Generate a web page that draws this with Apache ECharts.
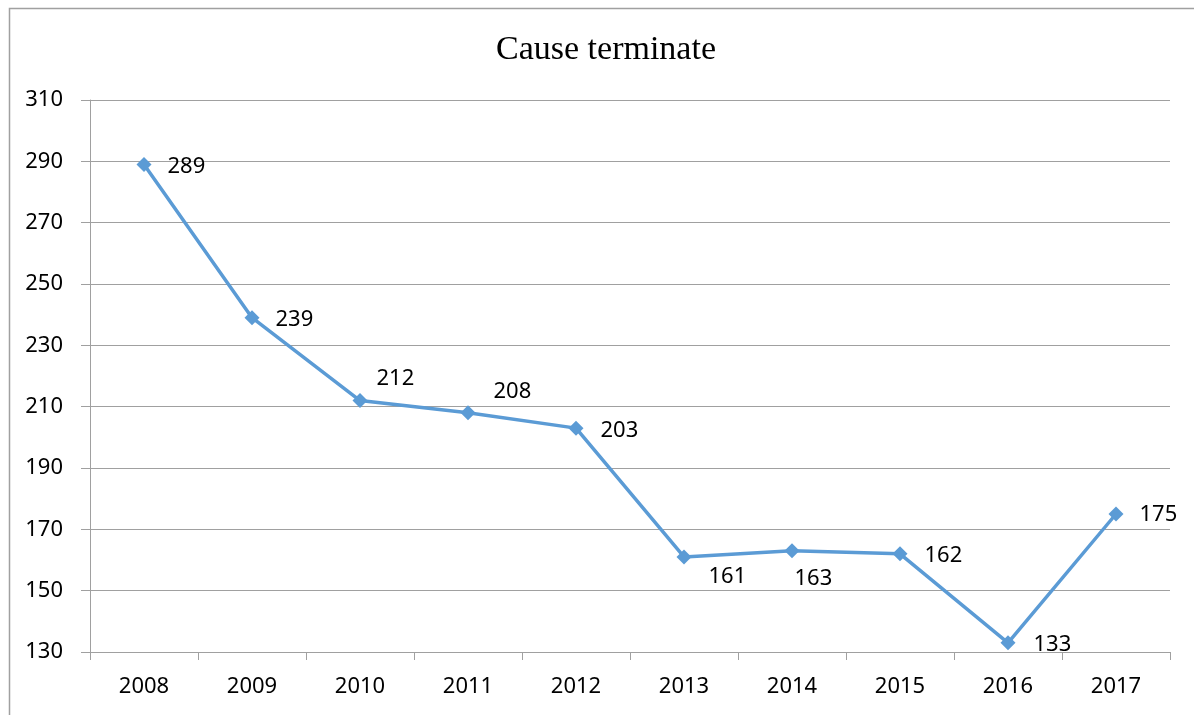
<!DOCTYPE html>
<html>
<head>
<meta charset="utf-8">
<script src="https://cdn.jsdelivr.net/npm/echarts@6/dist/echarts.min.js"></script>
<style>
html,body{margin:0;padding:0;background:#fff;}
#chart{width:1194px;height:715px;}
</style>
</head>
<body>
<div id="chart"></div>
<script>
var titleText = 'Cause terminate';
var years = ['2008','2009','2010','2011','2012','2013','2014','2015','2016','2017'];
var values = [289, 239, 212, 208, 203, 161, 163, 162, 133, 175];
var yTicks = [130, 150, 170, 190, 210, 230, 250, 270, 290, 310];

// label nudges (style only)
var labelNudge = [[0,2],[0,2],[-7,-22],[2,-21],[1,3],[1,20],[-21,28],[1,2],[2,2],[0,1]];

var chart = echarts.init(document.getElementById('chart'));
var fontFam = '"Noto Sans", "Liberation Sans", sans-serif';
var option = {
  backgroundColor: '#fff',
  animation: false,
  graphic: [{
    type: 'rect', left: 7, top: 6,
    shape: {width: 1220, height: 740},
    style: {fill: 'none', stroke: '#a0a0a0', lineWidth: 1.5},
    silent: true
  }],
  title: {
    text: titleText,
    left: 491, top: 28,
    textStyle: {fontFamily: '"Liberation Serif", "Times New Roman", serif', fontWeight: 'normal', fontSize: 34, color: '#000'}
  },
  grid: {left: 90, right: 24, top: 100, bottom: 63, containLabel: false},
  xAxis: {
    type: 'category',
    data: years,
    boundaryGap: true,
    axisLine: {show: true, lineStyle: {color: '#a0a0a0', width: 1}},
    axisTick: {show: true, length: 8, alignWithLabel: false, lineStyle: {color: '#a0a0a0'}},
    axisLabel: {color: '#000', fontSize: 22, fontFamily: fontFam, margin: 24},
    splitLine: {show: false}
  },
  yAxis: {
    type: 'value',
    min: yTicks[0], max: yTicks[yTicks.length-1], interval: yTicks[1]-yTicks[0],
    axisLine: {show: true, lineStyle: {color: '#a0a0a0', width: 1}},
    axisTick: {show: true, length: 9, lineStyle: {color: '#a0a0a0'}},
    axisLabel: {color: '#000', fontSize: 22, fontFamily: fontFam, margin: 27},
    splitLine: {show: true, lineStyle: {color: '#a0a0a0', width: 1}}
  },
  series: [{
    type: 'line',
    data: values.map(function(v, i){
      return {value: v, label: {offset: labelNudge[i]}};
    }),
    symbol: 'diamond',
    symbolSize: 15,
    lineStyle: {color: '#5b9bd5', width: 3.5},
    itemStyle: {color: '#5b9bd5'},
    label: {
      show: true, position: 'right', distance: 16,
      color: '#000', fontSize: 22, fontFamily: fontFam
    }
  }]
};
chart.setOption(option);
</script>
</body>
</html>
